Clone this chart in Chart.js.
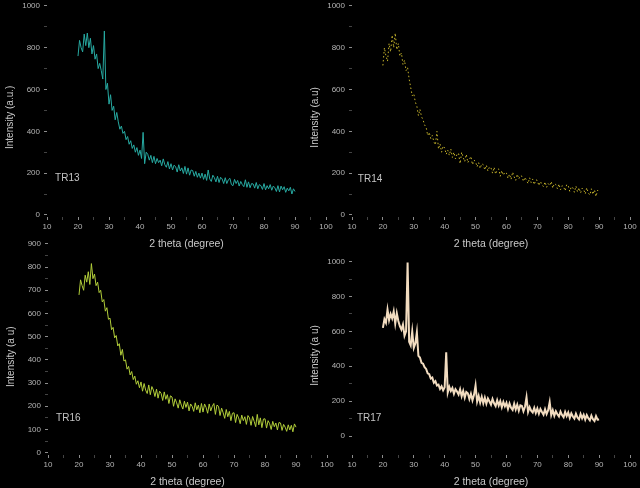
<!DOCTYPE html>
<html>
<head>
<meta charset="utf-8">
<script src="https://cdn.jsdelivr.net/npm/chart.js@4/dist/chart.umd.min.js"></script>
<style>
  html, body { margin: 0; padding: 0; background: #000; width: 640px; height: 488px; overflow: hidden; }
  canvas { position: absolute; }
</style>
</head>
<body>
<canvas id="tr13" width="336" height="255" style="left:0px;top:-5px"></canvas>
<canvas id="tr14" width="335" height="255" style="left:305px;top:-5px"></canvas>
<canvas id="tr16" width="336" height="255" style="left:1px;top:233px"></canvas>
<canvas id="tr17" width="335" height="252" style="left:305px;top:236px"></canvas>
<script>
// XRD patterns, four samples, 2 theta 20..90 in 0.5 degree steps

const twoTheta = [
  20, 20.5, 21, 21.5, 22, 22.5, 23, 23.5, 24, 24.5,
  25, 25.5, 26, 26.5, 27, 27.5, 28, 28.5, 29, 29.5,
  30, 30.5, 31, 31.5, 32, 32.5, 33, 33.5, 34, 34.5,
  35, 35.5, 36, 36.5, 37, 37.5, 38, 38.5, 39, 39.5,
  40, 40.5, 41, 41.5, 42, 42.5, 43, 43.5, 44, 44.5,
  45, 45.5, 46, 46.5, 47, 47.5, 48, 48.5, 49, 49.5,
  50, 50.5, 51, 51.5, 52, 52.5, 53, 53.5, 54, 54.5,
  55, 55.5, 56, 56.5, 57, 57.5, 58, 58.5, 59, 59.5,
  60, 60.5, 61, 61.5, 62, 62.5, 63, 63.5, 64, 64.5,
  65, 65.5, 66, 66.5, 67, 67.5, 68, 68.5, 69, 69.5,
  70, 70.5, 71, 71.5, 72, 72.5, 73, 73.5, 74, 74.5,
  75, 75.5, 76, 76.5, 77, 77.5, 78, 78.5, 79, 79.5,
  80, 80.5, 81, 81.5, 82, 82.5, 83, 83.5, 84, 84.5,
  85, 85.5, 86, 86.5, 87, 87.5, 88, 88.5, 89, 89.5,
  90,
];

const tr13 = [
  760, 835, 800, 780, 865, 810, 870, 800, 845, 770,
  810, 745, 770, 700, 725, 690, 650, 880, 600, 630,
  530, 575, 500, 520, 455, 490, 445, 410, 425, 390,
  400, 360, 375, 338, 355, 318, 335, 300, 322, 285,
  310, 270, 395, 245, 300, 290, 262, 285, 250, 280,
  245, 270, 250, 262, 235, 268, 240, 228, 255, 220,
  245, 215, 238, 230, 205, 240, 210, 225, 198, 232,
  195, 225, 190, 215, 212, 185, 208, 180, 200, 176,
  200, 170, 195, 165, 215, 172, 160, 190, 178, 158,
  185, 155, 180, 172, 150, 178, 150, 168, 175, 145,
  140, 170, 150, 165, 138, 160, 145, 135, 168, 132,
  158, 130, 150, 148, 128, 155, 125, 145, 140, 122,
  150, 120, 140, 125, 145, 118, 138, 130, 112, 140,
  110, 138, 120, 135, 108, 128, 115, 132, 100, 125,
  112,
];

const tr14 = [
  715, 800, 760, 735, 820, 780, 860, 800, 870, 790,
  820, 760, 775, 720, 740, 690, 705, 650, 610, 570,
  580, 540, 520, 475, 505, 470, 455, 430, 420, 380,
  395, 365, 380, 350, 335, 400, 315, 340, 300, 330,
  320, 290, 310, 285, 315, 275, 300, 268, 290, 295,
  245, 300, 275, 255, 290, 250, 265, 280, 240, 262,
  255, 230, 250, 222, 245, 240, 215, 238, 210, 230,
  225, 200, 228, 195, 215, 220, 185, 212, 190, 205,
  200, 175, 195, 170, 205, 182, 165, 195, 172, 188,
  185, 160, 180, 165, 150, 178, 155, 172, 145, 168,
  165, 140, 160, 145, 135, 158, 132, 150, 140, 160,
  128, 150, 145, 125, 148, 120, 140, 135, 115, 145,
  140, 112, 135, 130, 108, 138, 110, 130, 105, 128,
  122, 100, 130, 105, 95, 125, 98, 120, 88, 118,
  105,
];

const tr16 = [
  680, 745, 720, 700, 765, 735, 780, 725, 815, 750,
  770, 720, 735, 690, 700, 650, 660, 610, 625, 575,
  580, 530, 540, 495, 505, 460, 470, 420, 445, 395,
  400, 360, 372, 335, 350, 315, 330, 295, 310, 280,
  305, 265, 298, 270, 255, 292, 250, 285, 270, 242,
  274, 235, 265, 255, 225, 262, 230, 250, 212, 245,
  240, 200, 232, 215, 192, 228, 205, 188, 222, 195,
  218, 180, 210, 200, 178, 215, 185, 205, 172, 212,
  175, 210, 195, 170, 210, 180, 200, 212, 165, 205,
  200, 160, 192, 172, 148, 186, 155, 178, 138, 170,
  172, 130, 165, 150, 125, 162, 138, 155, 122, 160,
  150, 118, 156, 135, 112, 165, 120, 150, 108, 145,
  146, 106, 138, 125, 100, 135, 112, 128, 98, 130,
  128, 96, 122, 110, 92, 120, 98, 118, 90, 124,
  110,
];

const tr17 = [
  620, 670, 650, 725, 665, 700, 675, 715, 645, 705,
  660, 630, 610, 640, 575, 600, 995, 540, 520, 600,
  505, 530, 595, 460, 450, 420, 415, 395, 385, 360,
  355, 330, 335, 305, 315, 290, 295, 270, 285, 262,
  280, 480, 250, 282, 258, 275, 242, 268, 255, 238,
  268, 228, 258, 220, 252, 245, 212, 242, 205, 236,
  290, 198, 230, 192, 225, 188, 220, 185, 215, 198,
  180, 212, 188, 172, 205, 175, 200, 165, 195, 170,
  190, 155, 186, 162, 150, 185, 152, 180, 145, 176,
  172, 142, 168, 222, 138, 166, 145, 135, 162, 132,
  158, 128, 155, 138, 122, 154, 126, 148, 195, 120,
  148, 116, 142, 125, 112, 140, 120, 108, 138, 114,
  135, 104, 130, 112, 100, 128, 106, 95, 126, 102,
  122, 94, 120, 102, 90, 117, 96, 86, 114, 94,
  95,
];

// tick positions
const xTicks = [10, 15, 20, 25, 30, 35, 40, 45, 50, 55, 60, 65, 70, 75, 80, 85, 90, 95, 100];
const yTicks = [0, 100, 200, 300, 400, 500, 600, 700, 800, 900, 1000];
const yTicksTR16 = [0, 50, 100, 150, 200, 250, 300, 350, 400, 450, 500, 550, 600, 650, 700, 750, 800, 850, 900];

Chart.defaults.font.family = '"Liberation Sans", Arial, sans-serif';

// sample name written inside each plot, placed in data units
const tagPlugin = {
  id: "tag",
  afterDraw(chart, args, opts) {
    const { ctx, scales } = chart;
    ctx.save();
    ctx.fillStyle = "#c4c4c4";
    ctx.font = '10px "Liberation Sans", Arial, sans-serif';
    ctx.textBaseline = "middle";
    ctx.fillText(opts.text, scales.x.getPixelForValue(opts.at[0]), scales.y.getPixelForValue(opts.at[1]));
    ctx.restore();
  },
};

function tickColor(every) {
  return (c) => (c.tick && c.tick.value % every === 0 ? "#8c8c8c" : "#444");
}

function useTicks(list) {
  return (s) => { s.ticks = list.map((v) => ({ value: v })); };
}

function xrdChart(id, values, o) {
  return new Chart(document.getElementById(id), {
    type: "line",
    data: {
      datasets: [
        {
          data: twoTheta.map((t, i) => ({ x: t, y: values[i] })),
          borderColor: o.color,
          borderWidth: o.width,
          borderDash: o.dash || [],
          pointRadius: 0,
          tension: 0,
        },
      ],
    },
    options: {
      responsive: false,
      animation: false,
      events: [],
      layout: { padding: { top: 8, right: 10, bottom: 0, left: 0 } },
      plugins: {
        legend: { display: false },
        tooltip: { enabled: false },
        tag: { text: o.tag, at: o.tagAt },
      },
      scales: {
        x: {
          type: "linear",
          min: 10,
          max: 100,
          afterBuildTicks: useTicks(xTicks),
          afterFit: (s) => { s.height = 33; },
          border: { display: false },
          grid: { drawOnChartArea: false, tickLength: 3, color: tickColor(10) },
          ticks: {
            autoSkip: false,
            maxRotation: 0,
            minRotation: 0,
            padding: 2,
            color: "#b4b4b4",
            font: { size: 8 },
            callback: (v) => (v % 10 === 0 ? v : ""),
          },
          title: {
            display: true,
            text: "2 theta (degree)",
            color: "#c8c8c8",
            font: { size: 10.5 },
            padding: { top: 0, bottom: 0 },
          },
        },
        y: {
          min: o.yMin,
          max: o.yMax,
          afterBuildTicks: useTicks(o.ticks),
          afterFit: (s) => { s.width = 47; },
          border: { display: false },
          grid: { drawOnChartArea: false, tickLength: 3, color: tickColor(o.labelEvery) },
          ticks: {
            autoSkip: false,
            padding: 4,
            color: "#b4b4b4",
            font: { size: 8 },
            callback: (v) => (v % o.labelEvery === 0 ? v : ""),
          },
          title: {
            display: true,
            text: o.yTitle,
            color: "#c8c8c8",
            font: { size: 10 },
            padding: { top: 4, bottom: 0 },
          },
        },
      },
    },
    plugins: [tagPlugin],
  });
}

xrdChart("tr13", tr13, {
  color: "#27aaa2", width: 1, tag: "TR13", tagAt: [12.6, 176],
  yMin: -10, yMax: 1010, ticks: yTicks, labelEvery: 200, yTitle: "Intensity (a.u.)     ",
});

xrdChart("tr14", tr14, {
  color: "#c4b22a", width: 1, dash: [1.5, 2.5], tag: "TR14", tagAt: [11.9, 171],
  yMin: -10, yMax: 1010, ticks: yTicks, labelEvery: 200, yTitle: "Intensity (a.u)     ",
});

xrdChart("tr16", tr16, {
  color: "#b2ce3a", width: 1, tag: "TR16", tagAt: [12.6, 150],
  yMin: -10, yMax: 909, ticks: yTicksTR16, labelEvery: 100, yTitle: "Intensity (a u)      ",
});

xrdChart("tr17", tr17, {
  color: "#f2dcc0", width: 2, tag: "TR17", tagAt: [11.6, 103],
  yMin: -109, yMax: 1097, ticks: yTicks, labelEvery: 200, yTitle: "Intensity (a u)    ",
});
</script>
</body>
</html>
